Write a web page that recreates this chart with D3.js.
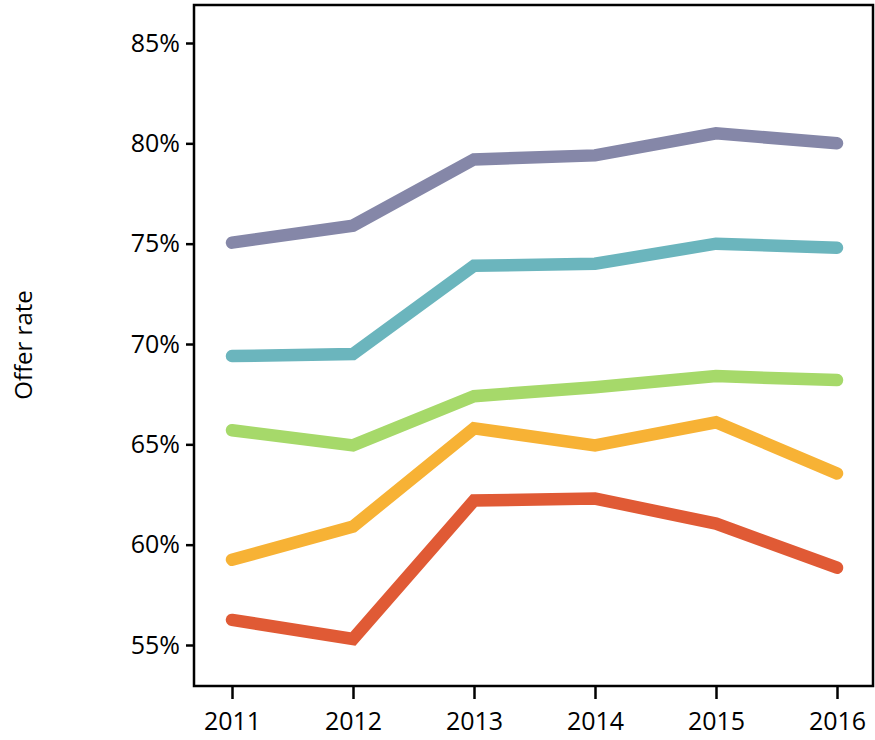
<!DOCTYPE html>
<html>
<head>
<meta charset="utf-8">
<script src="https://cdn.jsdelivr.net/npm/d3@7"></script>
<style>
  body { margin: 0; background: #fff; }
  text { font-family: "Open Sans", sans-serif; fill: #000; }
</style>
</head>
<body>
<svg id="chart" width="875" height="740"></svg>
<script>
// data
var years = [2011, 2012, 2013, 2014, 2015, 2016];
var yTicks = [55, 60, 65, 70, 75, 80, 85];
var colors = ["#8587a8", "#6bb5bd", "#a6d96a", "#f7b235", "#e05a35"];
var s1 = [75.05, 75.9, 79.2, 79.4, 80.5, 80.0];
var s2 = [69.4, 69.5, 73.9, 74.0, 75.0, 74.8];
var s3 = [65.7, 64.95, 67.4, 67.85, 68.4, 68.2];
var s4 = [59.25, 60.9, 65.8, 64.95, 66.1, 63.55];
var s5 = [56.25, 55.3, 62.2, 62.3, 61.05, 58.85];
var allSeries = [s1, s2, s3, s4, s5];

var svg = d3.select("#chart");

// plot box
var boxL = 194, boxR = 873, boxT = 5, boxB = 686;

var x = d3.scaleLinear().domain([2011, 2016]).range([232, 837]);
var y = d3.scaleLinear().domain([55, 85]).range([645, 43]);

svg.append("rect")
  .attr("x", boxL).attr("y", boxT)
  .attr("width", boxR - boxL).attr("height", boxB - boxT)
  .attr("fill", "none").attr("stroke", "#000").attr("stroke-width", 2.5);

// y axis
var yAxis = svg.append("g").attr("transform", "translate(" + boxL + ",0)")
  .call(d3.axisLeft(y).tickValues(yTicks).tickSize(8).tickPadding(6)
    .tickFormat(function(d) { return d + "%"; }));
yAxis.select(".domain").remove();
yAxis.selectAll("line").attr("stroke", "#000").attr("stroke-width", 2.5);
yAxis.selectAll("text").style("font-size", "25px").style("font-family", "Open Sans");

// x axis
var xAxis = svg.append("g").attr("transform", "translate(0," + boxB + ")")
  .call(d3.axisBottom(x).tickValues(years).tickSize(13).tickPadding(13)
    .tickFormat(d3.format("d")));
xAxis.select(".domain").remove();
xAxis.selectAll("line").attr("stroke", "#000").attr("stroke-width", 2.5);
xAxis.selectAll("text").style("font-size", "25px").style("font-family", "Open Sans");

// axis title
svg.append("text")
  .attr("transform", "translate(32,345) rotate(-90)")
  .attr("text-anchor", "middle")
  .style("font-size", "24px")
  .text("Offer rate");

var line = d3.line()
  .x(function(d, i) { return x(years[i]); })
  .y(function(d) { return y(d); });

svg.selectAll("path.series")
  .data(allSeries)
  .enter()
  .append("path")
  .attr("class", "series")
  .attr("d", line)
  .attr("fill", "none")
  .attr("stroke", function(d, i) { return colors[i]; })
  .attr("stroke-width", 12.5)
  .attr("stroke-linecap", "round")
  .attr("stroke-linejoin", "miter");
</script>
</body>
</html>
